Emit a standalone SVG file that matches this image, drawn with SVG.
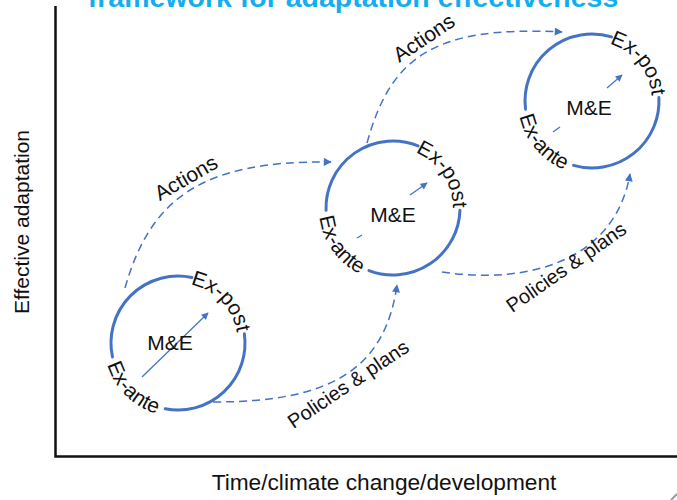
<svg xmlns="http://www.w3.org/2000/svg" xmlns:xlink="http://www.w3.org/1999/xlink" width="677" height="500" viewBox="0 0 677 500">
  <style>
    .ring { fill: none; stroke: #4472c4; stroke-width: 3; stroke-linecap: round; }
    .inner { fill: none; stroke: #4472c4; stroke-width: 1.3; }
    .flow { fill: none; stroke: #4472c4; stroke-width: 1.5; stroke-dasharray: 8 5; }
    .lbl { font-family: "Liberation Sans", Arial, sans-serif; font-size: 20px; fill: #111; }
    .arc { font-family: "Liberation Sans", Arial, sans-serif; font-size: 21px; fill: #111; }
    .me { font-family: "Liberation Sans", Arial, sans-serif; font-size: 21px; fill: #111; text-anchor: middle; }
    .axis { fill: none; stroke: #111; stroke-width: 2.5; }
  </style>
  <defs>
    <marker id="head" viewBox="0 0 10 10" refX="9" refY="5" markerWidth="9" markerHeight="8" markerUnits="userSpaceOnUse" orient="auto">
      <path d="M0,0 L10,5 L0,10 z" fill="#4472c4"/>
    </marker>
    <marker id="headSmall" viewBox="0 0 10 10" refX="9" refY="5" markerWidth="8" markerHeight="7" markerUnits="userSpaceOnUse" orient="auto">
      <path d="M0,0 L10,5 L0,10 z" fill="#4472c4"/>
    </marker>
    <!-- text guides, relative to a circle centre -->
    <path id="postArc" d="M6.27,-59.67 A60,60 0 0 1 59.85,-4.19"/>
    <path id="anteArc" d="M-73.72,6.45 A74,74 0 0 0 -6.45,73.72"/>
  </defs>

  <!-- title, running off the top edge -->
  <text x="353" y="7" text-anchor="middle" font-family="Liberation Sans, Arial, sans-serif" font-weight="bold" font-size="28.5" fill="#14aeee">framework for adaptation effectiveness</text>

  <!-- axes -->
  <g id="axes">
    <path class="axis" d="M55.5,6 V456.5 H677"/>
    <text class="lbl" style="font-size:21px" transform="translate(29,222) rotate(-90)" text-anchor="middle">Effective adaptation</text>
    <text class="lbl" style="font-size:22.7px" x="384" y="490" text-anchor="middle">Time/climate change/development</text>
  </g>

  <!-- connectors -->
  <g id="connectors">
    <path class="flow" d="M125,288 C150,200 200,160 331,162" marker-end="url(#head)"/>
    <path class="flow" d="M367,143 C390,60 430,25 562,32" marker-end="url(#head)"/>
    <path class="flow" d="M213,402 C330,402 385,370 397,285" marker-end="url(#head)"/>
    <path class="flow" d="M442,272 C530,285 615,260 630,174" marker-end="url(#head)"/>
    <text class="lbl" style="font-size:21px" transform="translate(186,178) rotate(-30)" text-anchor="middle" y="7">Actions</text>
    <text class="lbl" style="font-size:21px" transform="translate(424,38) rotate(-34)" text-anchor="middle" y="7">Actions</text>
    <text class="lbl" transform="translate(348,384) rotate(-34)" text-anchor="middle" y="7">Policies &amp; plans</text>
    <text class="lbl" transform="translate(566,267) rotate(-35)" text-anchor="middle" y="7">Policies &amp; plans</text>
  </g>

  <!-- cycle 1 -->
  <g id="cycle1" transform="translate(178,343)">
    <path class="inner" d="M-36,34 L30,-30" marker-end="url(#headSmall)"/>
    <g>
      <path class="ring" d="M66.35,-9.33 A67,67 0 0 1 -12.78,65.77"/>
      <path class="ring" d="M-65.53,13.93 A67,67 0 0 1 13.93,-65.53"/>
      <text class="arc"><textPath href="#postArc" xlink:href="#postArc" startOffset="50%" text-anchor="middle">Ex-post</textPath></text>
      <text class="arc"><textPath href="#anteArc" xlink:href="#anteArc" startOffset="50%" text-anchor="middle">Ex-ante</textPath></text>
    </g>
    <text class="me" x="-8" y="7">M&amp;E</text>
  </g>

  <!-- cycle 2 -->
  <g id="cycle2" transform="translate(393,208)">
    <path class="inner" d="M-36,30 L-31,27"/>
    <path class="inner" d="M17,-13 L34,-25" marker-end="url(#headSmall)"/>
    <g transform="rotate(10)">
      <path class="ring" d="M66.35,-9.33 A67,67 0 0 1 -12.78,65.77"/>
      <path class="ring" d="M-65.53,13.93 A67,67 0 0 1 13.93,-65.53"/>
      <text class="arc"><textPath href="#postArc" xlink:href="#postArc" startOffset="50%" text-anchor="middle">Ex-post</textPath></text>
      <text class="arc"><textPath href="#anteArc" xlink:href="#anteArc" startOffset="50%" text-anchor="middle">Ex-ante</textPath></text>
    </g>
    <text class="me" x="0" y="14">M&amp;E</text>
  </g>

  <!-- cycle 3 -->
  <g id="cycle3" transform="translate(592,101)">
    <path class="inner" d="M-39,31 L-32,26"/>
    <path class="inner" d="M15,-13 L30,-26" marker-end="url(#headSmall)"/>
    <g transform="rotate(5)">
      <path class="ring" d="M66.35,-9.33 A67,67 0 0 1 -12.78,65.77"/>
      <path class="ring" d="M-65.53,13.93 A67,67 0 0 1 13.93,-65.53"/>
      <text class="arc"><textPath href="#postArc" xlink:href="#postArc" startOffset="50%" text-anchor="middle">Ex-post</textPath></text>
      <text class="arc"><textPath href="#anteArc" xlink:href="#anteArc" startOffset="50%" text-anchor="middle">Ex-ante</textPath></text>
    </g>
    <text class="me" x="-3" y="14">M&amp;E</text>
  </g>

  <!-- corner mark -->
  <path d="M671,500 L677,494" stroke="#9a9a9a" stroke-width="2"/>
</svg>
